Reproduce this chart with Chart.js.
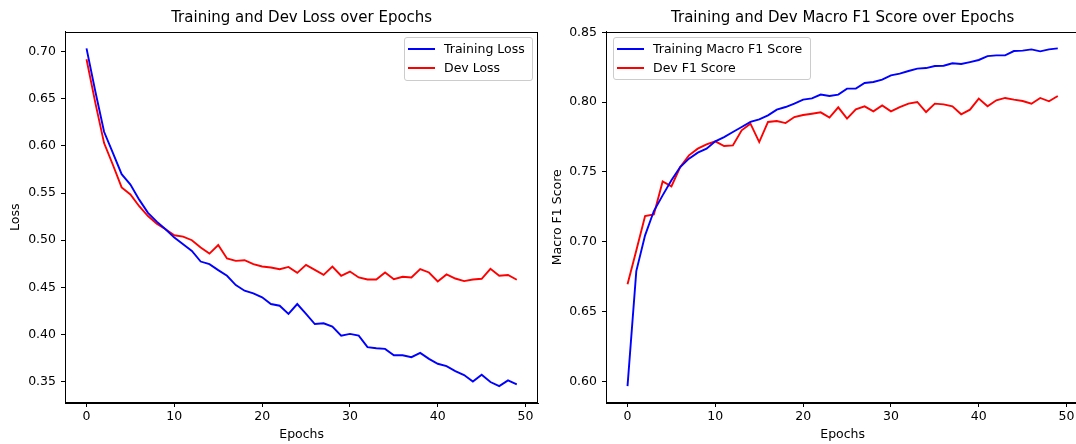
<!DOCTYPE html>
<html>
<head>
<meta charset="utf-8">
<script src="https://cdn.jsdelivr.net/npm/chart.js@4.4.1/dist/chart.umd.min.js"></script>
<style>
  html, body { margin: 0; padding: 0; background: #fff; overflow: hidden; }
  #wrap { position: relative; width: 1076px; height: 444px; overflow: hidden; }
  canvas { position: absolute; top: 0; }
  .legend {
    position: absolute; background: rgba(255,255,255,0.8);
    border: 1px solid #cccccc; border-radius: 3px; box-sizing: border-box;
    font-family: "DejaVu Sans"; font-size: 12.5px; color: #000;
  }
  .legend .row { position: absolute; left: 0; height: 16px; line-height: 16px; white-space: nowrap; }
  .legend .swatch { position: absolute; left: 3px; top: 7px; width: 27px; height: 0; border-top: 2px solid; }
  .legend .txt { position: absolute; left: 39px; top: 0; }
</style>
</head>
<body>
<div id="wrap">
  <canvas id="lossChart" width="548" height="444" style="left:0px"></canvas>
  <canvas id="f1Chart" width="548" height="444" style="left:544px"></canvas>

  <div class="legend" style="left:404px; top:37px; width:129px; height:44px;">
    <div class="row" style="top:3px"><span class="swatch" style="border-color:blue"></span><span class="txt">Training Loss</span></div>
    <div class="row" style="top:22px"><span class="swatch" style="border-color:red"></span><span class="txt">Dev Loss</span></div>
  </div>
  <div class="legend" style="left:613px; top:37px; width:198px; height:43px;">
    <div class="row" style="top:3px"><span class="swatch" style="border-color:blue"></span><span class="txt">Training Macro F1 Score</span></div>
    <div class="row" style="top:22px"><span class="swatch" style="border-color:red"></span><span class="txt">Dev F1 Score</span></div>
  </div>
</div>

<script>
// data
var epochs = [0, 1, 2, 3, 4, 5, 6, 7, 8, 9, 10, 11, 12, 13, 14, 15, 16, 17, 18, 19,
  20, 21, 22, 23, 24, 25, 26, 27, 28, 29, 30, 31, 32, 33, 34, 35, 36, 37, 38, 39,
  40, 41, 42, 43, 44, 45, 46, 47, 48, 49];

var trainLoss = [0.7035, 0.658, 0.615, 0.5925, 0.570, 0.559, 0.543, 0.529, 0.5196, 0.5115,
  0.5027, 0.4956, 0.4886, 0.4773, 0.4745, 0.4682, 0.4622, 0.4523, 0.4463, 0.4435,
  0.4393, 0.4322, 0.4304, 0.4217, 0.4322, 0.4217, 0.411, 0.4118, 0.4082, 0.3987,
  0.4005, 0.3987, 0.3864, 0.3853, 0.3846, 0.3779, 0.3779, 0.3758, 0.3804, 0.374,
  0.3688, 0.3663, 0.361, 0.3568, 0.350, 0.3571, 0.3494, 0.3451, 0.3512, 0.347];

var devLoss = [0.692, 0.646, 0.603, 0.580, 0.556, 0.5485, 0.536, 0.5256, 0.5175, 0.5115,
  0.5052, 0.5037, 0.4999, 0.4921, 0.4857, 0.4949, 0.4805, 0.478, 0.4787, 0.4745,
  0.472, 0.471, 0.4692, 0.4716, 0.4653, 0.4738, 0.4685, 0.4632, 0.472, 0.4622,
  0.4667, 0.4604, 0.4583, 0.4583, 0.4657, 0.4586, 0.4611, 0.4604, 0.4692, 0.4657,
  0.4561, 0.4636, 0.4593, 0.4565, 0.4583, 0.459, 0.4696, 0.4622, 0.463, 0.458];

var trainF1 = [0.5966, 0.679, 0.7046, 0.722, 0.7332, 0.744, 0.7535, 0.7595, 0.7638, 0.7667,
  0.7719, 0.775, 0.7786, 0.7822, 0.7858, 0.7877, 0.7905, 0.7946, 0.7965, 0.7989,
  0.8018, 0.8027, 0.8054, 0.8044, 0.8054, 0.8097, 0.8097, 0.8137, 0.8144, 0.8161,
  0.8192, 0.8204, 0.8223, 0.824, 0.8244, 0.8259, 0.8261, 0.8278, 0.8273, 0.8287,
  0.8302, 0.833, 0.8335, 0.8335, 0.8366, 0.8369, 0.8378, 0.8364, 0.8378, 0.8385];

var devF1 = [0.6695, 0.6938, 0.7184, 0.7196, 0.7432, 0.7397, 0.7535, 0.7619, 0.7667, 0.7698,
  0.7719, 0.7686, 0.769, 0.7798, 0.7846, 0.7714, 0.7858, 0.7865, 0.785, 0.7893,
  0.7908, 0.7917, 0.7927, 0.7889, 0.7963, 0.7882, 0.7948, 0.797, 0.7934, 0.7977,
  0.7934, 0.7965, 0.7989, 0.8001, 0.7929, 0.7989, 0.7984, 0.797, 0.7913, 0.7946,
  0.8025, 0.797, 0.8013, 0.803, 0.8018, 0.8008, 0.7989, 0.803, 0.8006, 0.8044];

var epochTicks = [0, 10, 20, 30, 40, 50];
var lossTicks = [0.35, 0.40, 0.45, 0.50, 0.55, 0.60, 0.65, 0.70];
var f1Ticks = [0.60, 0.65, 0.70, 0.75, 0.80, 0.85];

Chart.defaults.font.family = 'DejaVu Sans';
Chart.defaults.color = '#000';

// matplotlib-style 5% margins
function padRange(arrs) {
  var all = [].concat.apply([], arrs);
  var lo = Math.min.apply(null, all), hi = Math.max.apply(null, all);
  var m = (hi - lo) * 0.05;
  return { min: lo - m, max: hi + m };
}

var frame = {
  id: 'frame',
  afterDatasetsDraw: function(chart) {
    var a = chart.chartArea, c = chart.ctx;
    var l = Math.round(a.left) + 0.5, t = Math.round(a.top) + 0.5;
    var r = Math.round(a.right) - 0.5, b = Math.round(a.bottom) - 0.5;
    c.save();
    c.strokeStyle = '#000';
    c.lineWidth = 1;
    c.strokeRect(l, t, r - l, b - t);
    c.restore();
  }
};

function makeChart(id, title, yTitle, s1, s2, yTicks, yAxisWidth, yTitlePad, rightPad) {
  var xr = padRange([epochs]);
  var yr = padRange([s1.data, s2.data]);
  return new Chart(document.getElementById(id).getContext('2d'), {
    type: 'line',
    data: {
      datasets: [s1, s2].map(function(s) {
        return {
          label: s.label,
          data: epochs.map(function(e, i) { return { x: e, y: s.data[i] }; }),
          borderColor: s.color,
          borderWidth: 1.9,
          pointRadius: 0,
          tension: 0,
          fill: false
        };
      })
    },
    options: {
      responsive: false,
      animation: false,
      devicePixelRatio: 1,
      layout: { padding: { left: 0, right: rightPad, top: 0, bottom: 0 } },
      plugins: {
        legend: { display: false },
        tooltip: { enabled: false },
        title: {
          display: true,
          text: title,
          fullSize: false,
          color: '#000',
          font: { size: 15, weight: 'normal' },
          padding: { top: 9.5, bottom: 4 }
        }
      },
      scales: {
        x: {
          type: 'linear',
          min: xr.min,
          max: xr.max,
          afterBuildTicks: function(axis) { axis.ticks = epochTicks.map(function(v) { return { value: v }; }); },
          afterFit: function(axis) { axis.height = 41; },
          grid: { display: true, drawOnChartArea: false, drawTicks: true, tickLength: 4, color: '#000' },
          border: { display: true, color: '#000' },
          ticks: { font: { size: 12.5 }, padding: 2, maxRotation: 0, color: '#000' },
          title: { display: true, text: 'Epochs', font: { size: 12.5 }, padding: { top: 0, bottom: 2 }, color: '#000' }
        },
        y: {
          type: 'linear',
          min: yr.min,
          max: yr.max,
          afterBuildTicks: function(axis) { axis.ticks = yTicks.map(function(v) { return { value: v }; }); },
          afterFit: function(axis) { axis.width = yAxisWidth; },
          grid: { display: true, drawOnChartArea: false, drawTicks: true, tickLength: 4, color: '#000' },
          border: { display: true, color: '#000' },
          ticks: {
            font: { size: 12.5 }, padding: 5, color: '#000',
            callback: function(v) { return v.toFixed(2); }
          },
          title: { display: true, text: yTitle, font: { size: 12.5 }, padding: { top: yTitlePad, bottom: 0 }, color: '#000' }
        }
      }
    },
    plugins: [frame]
  });
}

makeChart('lossChart', 'Training and Dev Loss over Epochs', 'Loss',
  { label: 'Training Loss', data: trainLoss, color: 'blue' },
  { label: 'Dev Loss', data: devLoss, color: 'red' },
  lossTicks, 65, 8.5, 9.7);

makeChart('f1Chart', 'Training and Dev Macro F1 Score over Epochs', 'Macro F1 Score',
  { label: 'Training Macro F1 Score', data: trainF1, color: 'blue' },
  { label: 'Dev F1 Score', data: devF1, color: 'red' },
  f1Ticks, 62, 6.5, 12.7);
</script>
</body>
</html>
